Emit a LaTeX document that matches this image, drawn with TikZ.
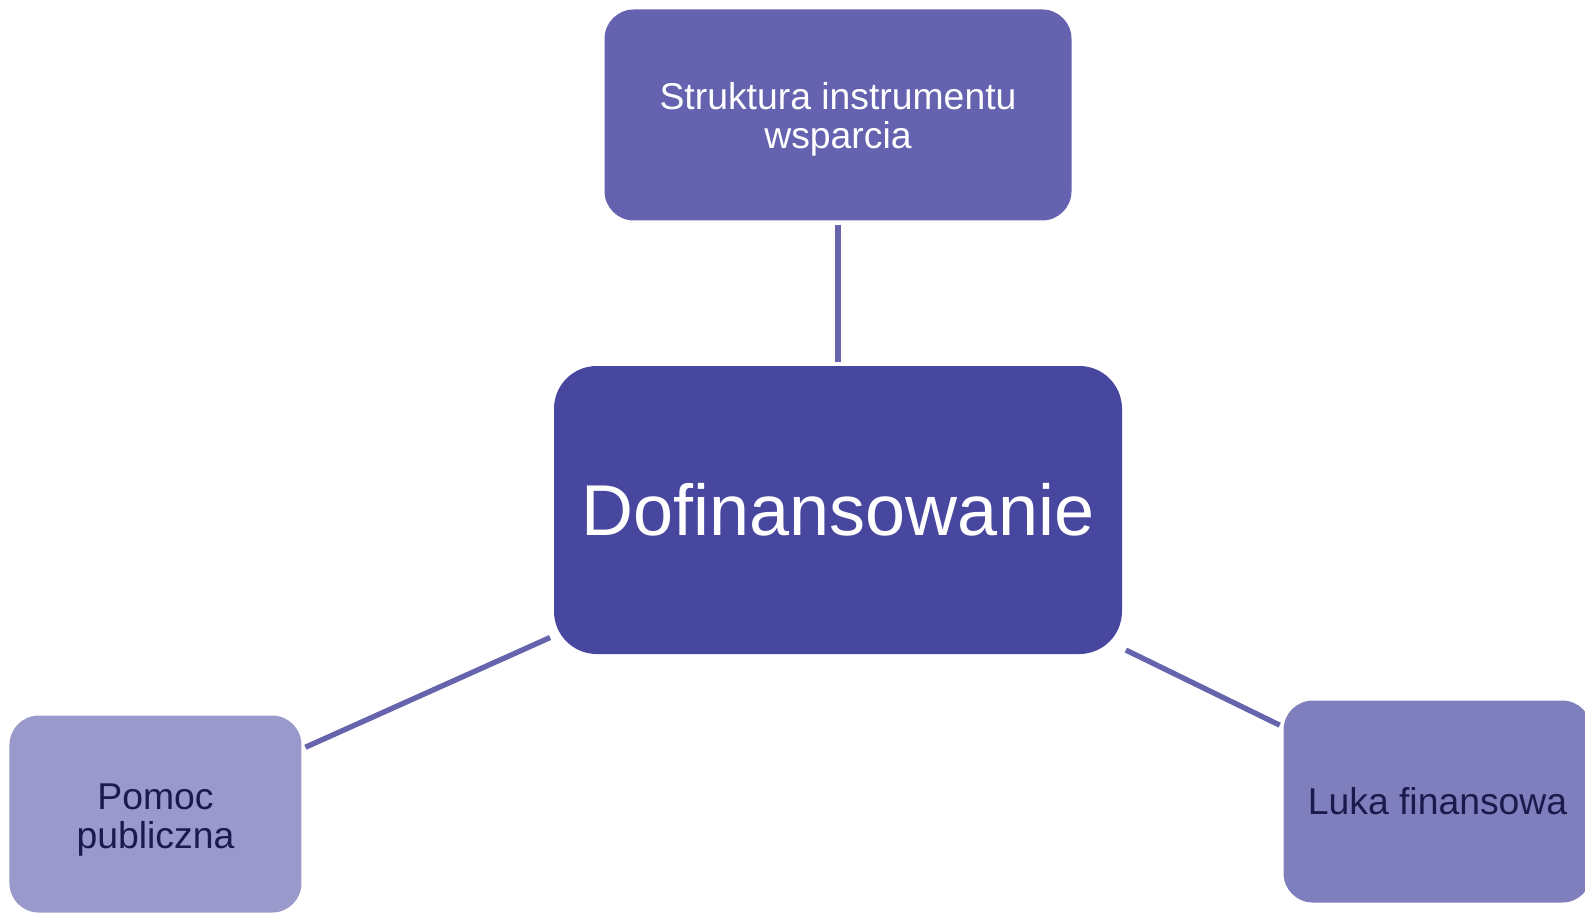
\documentclass[tikz,border=0pt]{standalone}
\usepackage{fontspec}
\setmainfont{Liberation Sans}
\usetikzlibrary{positioning}

\definecolor{hubfill}{HTML}{4847A0}
\definecolor{topfill}{HTML}{6563B0}
\definecolor{leftfill}{HTML}{9A99CB}
\definecolor{rightfill}{HTML}{807FBE}
\definecolor{linkcol}{HTML}{6664AD}
\definecolor{darktext}{HTML}{1C1A4C}

\begin{document}
\begin{tikzpicture}[
    hub/.style={
        rectangle,
        fill=hubfill,
        text=white,
        minimum width=426pt,
        minimum height=216pt,
        inner sep=0pt,
        rounded corners=32pt,
        font=\fontsize{54}{62}\selectfont
    },
    topic/.style={
        rectangle,
        inner sep=0pt,
        align=center,
        rounded corners=22pt,
        font=\fontsize{28}{29}\selectfont
    },
    link/.style={draw=linkcol, line width=4pt, shorten >=3pt, shorten <=3pt}
]
    \useasboundingbox (0,0) rectangle (1188.75pt,-685.5pt);

    % Central node
    \node[hub] (dof) at (628.5pt,-382.5pt) {Dofinansowanie};

    % Surrounding topics
    \node[topic, fill=topfill, text=white, minimum width=350.25pt, minimum height=158.25pt,
          above=108.75pt of dof] (struktura) {\rule{0pt}{27pt}Struktura instrumentu\\wsparcia};
    \node[topic, fill=leftfill, text=darktext, minimum width=219pt, minimum height=147.75pt,
          below left=45.75pt and 189pt of dof] (pomoc) {\rule{0pt}{28pt}Pomoc\\publiczna};
    \node[topic, fill=rightfill, text=darktext, minimum width=231pt, minimum height=151.5pt,
          below right=34.5pt and 120.75pt of dof] (luka) {Luka finansowa};

    % Connectors
    \draw[link] (struktura) -- (dof);
    \draw[link] (dof) -- (pomoc);
    \draw[link] (dof) -- (luka);
\end{tikzpicture}
\end{document}
